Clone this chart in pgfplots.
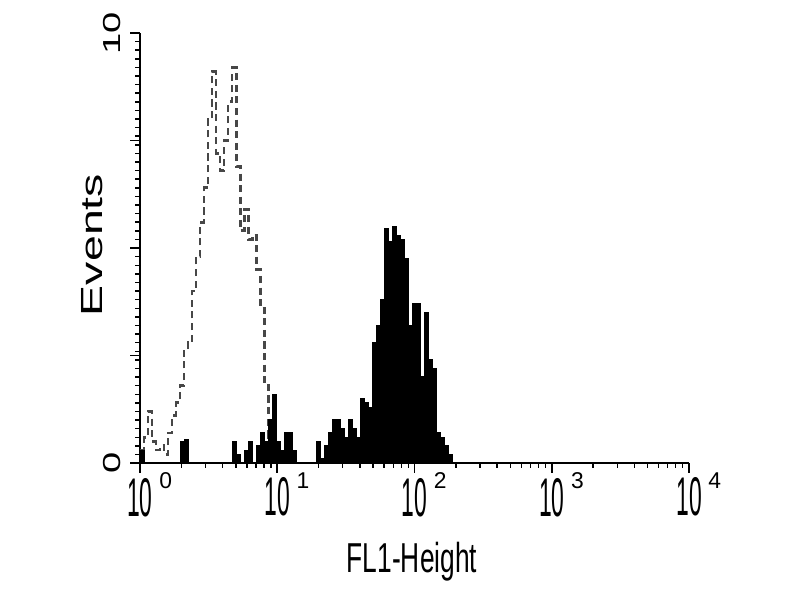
\documentclass[border=0pt]{standalone}
\usepackage{fontspec}
\setmainfont{Liberation Sans}
\usepackage{graphicx}
\usepackage{pgfplots}
\pgfplotsset{compat=1.18}
\newfontfamily\xtf{Liberation Sans}[FakeStretch=0.42]
\newfontfamily\xsf{Liberation Sans}
\newfontfamily\lblf{Liberation Sans}[FakeStretch=0.63]
\newfontfamily\vlf{Liberation Sans}[FakeStretch=1.52]
\newfontfamily\ytf{Liberation Sans}[FakeStretch=1.55]
\newcommand\xtl[1]{{\xtf\fontsize{31pt}{31pt}\selectfont 10}\rlap{\hspace{3.8pt}\raisebox{15.5pt}{\xsf\fontsize{13pt}{13pt}\selectfont #1}}}
\begin{document}
\begin{tikzpicture}
\path[use as bounding box] (0,0) rectangle (16cm,12cm);
\begin{axis}[
  at={(2.8cm,2.74cm)}, anchor=south west,
  width=10.98cm, height=8.6cm, scale only axis,
  xmode=log, xmin=1, xmax=10000, ymin=0, ymax=10,
  axis lines=left, axis line style={-, line width=1.6pt},
  tick align=outside,
  major tick length=5.5pt, minor tick length=2.8pt,
  every tick/.style={black, line width=1.1pt},
  every minor tick/.style={black, line width=0.8pt},
  xtick={1,10,100,1000,10000},
  xticklabels={\xtl{0},\xtl{1},\xtl{2},\xtl{3},\xtl{4}},
  xticklabel style={anchor=north, inner sep=0pt},
  ytick={0,10}, yticklabels={0,10},
  yticklabel style={rotate=90, anchor=south, inner sep=0pt, yshift=5pt, font=\ytf\fontsize{14pt}{14pt}\selectfont},
  extra y ticks={2.5,5,7.5}, extra y tick labels={},
  minor ytick={0,0.2,...,10},
  xlabel={\lblf\fontsize{23.8pt}{24pt}\selectfont FL1-Height},
  ylabel={\vlf\fontsize{17.4pt}{18pt}\selectfont Events},
  xlabel style={at={(axis description cs:0.4954,-0.2535)}, anchor=base, inner sep=0pt},
  ylabel style={at={(axis description cs:-0.0674,0.507)}, anchor=base, inner sep=0pt},
]
\addplot[const plot, draw=black!72, line width=1.5pt, dash pattern=on 4pt off 2.6pt] coordinates {
(1.000,0.3) (1.070,0.6) (1.144,1.2) (1.224,0.5) (1.308,0.3) (1.400,0.4) (1.497,0.2) (1.601,0.7)
(1.713,1.1) (1.831,1.4) (1.959,1.8) (2.095,2.6) (2.241,2.8) (2.397,4.0) (2.564,4.8) (2.742,5.6)
(2.933,6.4) (3.137,8.0) (3.354,9.1) (3.587,7.2) (3.837,6.8) (4.104,7.5) (4.389,8.4) (4.694,9.2)
(5.021,6.9) (5.370,5.4) (5.743,5.9) (6.143,5.2) (6.570,5.3) (7.027,4.5) (7.515,3.6) (8.038,1.9)
(8.597,0.6) (9.194,0.3) (9.834,0)
};
\addplot[const plot, fill=black, draw=black, line width=0.6pt] coordinates {
(1.000,0.3) (1.070,0) (1.959,0.5) (2.095,0.55) (2.241,0) (4.694,0.5) (5.021,0.2) (5.370,0)
(5.743,0.3) (6.143,0.5) (6.570,0) (7.027,0.4) (7.515,0.7) (8.038,0.5) (8.597,1.0) (9.194,1.6)
(9.834,0.5) (10.52,0.3) (11.25,0.7) (12.03,0.7) (12.87,0.3) (13.76,0) (19.26,0.5) (20.60,0.1)
(22.03,0.4) (23.57,0.7) (25.21,1.0) (26.96,1.0) (28.84,0.8) (30.84,0.6) (32.98,1.0) (35.28,0.8)
(37.73,0.6) (40.35,1.5) (43.15,1.4) (46.16,1.3) (49.37,2.8) (52.80,3.2) (56.47,3.8) (60.39,5.45)
(64.59,5.15) (69.08,5.5) (73.88,5.3) (79.02,5.2) (84.51,4.75) (90.4,3.2) (96.7,3.7) (103.4,3.7)
(110.6,2.0) (118.3,3.5) (126.6,2.4) (135.3,2.2) (144.8,0.7) (154.8,0.6) (165.6,0.4) (177.1,0.2)
(189.4,0)
} \closedcycle;
\end{axis}
\end{tikzpicture}
\end{document}
